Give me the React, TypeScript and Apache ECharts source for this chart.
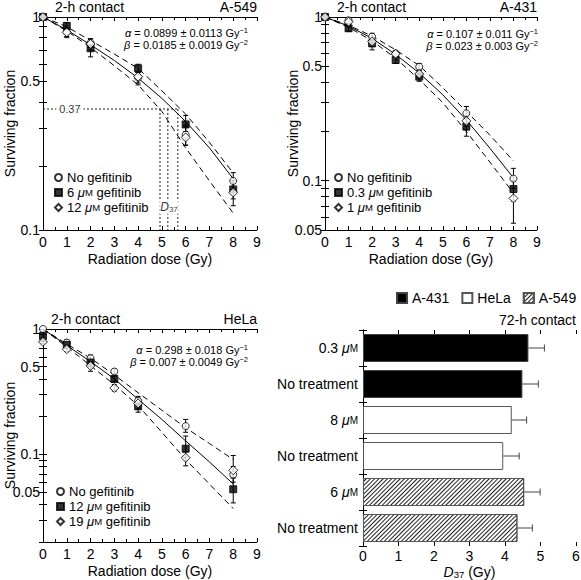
import React, { useEffect, useRef } from "react";
import * as echarts from "echarts";

const FONT = '"Liberation Sans", Arial, Helvetica, sans-serif';

// ---------- shared ----------
const fitDoses = [0, 1, 2, 3, 4, 5, 6, 7, 8];

// ---------- A-549 (2-h contact) ----------
const a549Doses = [0, 1, 2, 4, 6, 8];
const a549NoGef = [1, 0.853, 0.757, 0.519, 0.28, 0.17];
const a549Gef6 = [1, 0.908, 0.713, 0.574, 0.313, 0.155];
const a549Gef12 = [1, 0.847, 0.747, 0.525, 0.272, 0.15];
const a549NoGefErr = [[1, 1], [0.81, 0.89], [0.72, 0.79], [0.49, 0.55], [0.25, 0.305], [0.155, 0.186]];
const a549Gef6Err = [[1, 1], [0.88, 0.94], [0.65, 0.75], [0.55, 0.6], [0.29, 0.345], [0.14, 0.17]];
const a549Gef12Err = [[1, 1], [0.8, 0.88], [0.7, 0.79], [0.48, 0.55], [0.25, 0.31], [0.13, 0.17]];
const a549Fit = [1, 0.87, 0.74, 0.625, 0.517, 0.415, 0.323, 0.243, 0.174];
const a549Upper = [1, 0.9, 0.775, 0.67, 0.574, 0.45, 0.35, 0.258, 0.185];
const a549Lower = [1, 0.86, 0.72, 0.59, 0.48, 0.36, 0.243, 0.17, 0.12];
const d37Level = 0.37;
const d37Doses = [4.92, 5.25, 5.67];
const a549YLabels = [0.1, 0.5, 1];
const a549YTicks = [0.1, 0.2, 0.3, 0.4, 0.5, 0.6, 0.7, 0.8, 0.9, 1];

// ---------- A-431 (2-h contact) ----------
const a431Doses = [0, 1, 2, 3, 4, 6, 8];
const a431NoGef = [1, 0.955, 0.758, 0.6, 0.497, 0.258, 0.103];
const a431Gef03 = [1, 0.853, 0.69, 0.546, 0.432, 0.214, 0.089];
const a431Gef1 = [1, 0.935, 0.707, 0.595, 0.449, 0.232, 0.078];
const a431NoGefErr = [[1, 1], [0.93, 0.98], [0.73, 0.795], [0.58, 0.62], [0.475, 0.52], [0.24, 0.284], [0.09, 0.119]];
const a431Gef03Err = [[1, 1], [0.82, 0.89], [0.63, 0.75], [0.52, 0.57], [0.405, 0.455], [0.187, 0.24], [0.075, 0.1]];
const a431Gef1Err = [[1, 1], [0.91, 0.97], [0.66, 0.75], [0.575, 0.62], [0.425, 0.47], [0.215, 0.25], [0.055, 0.1]];
const a431Fit = [1, 0.88, 0.74, 0.59, 0.455, 0.335, 0.235, 0.158, 0.104];
const a431Upper = [1, 0.89, 0.765, 0.63, 0.505, 0.37, 0.265, 0.19, 0.132];
const a431Lower = [1, 0.865, 0.715, 0.56, 0.415, 0.3, 0.2, 0.13, 0.084];
const a431YLabels = [0.05, 0.1, 0.5, 1];
const a431YTicks = [0.05, 0.06, 0.07, 0.08, 0.09, 0.1, 0.2, 0.3, 0.4, 0.5, 0.6, 0.7, 0.8, 0.9, 1];

// ---------- HeLa (2-h contact) ----------
const helaDoses = [0, 1, 2, 3, 4, 6, 8];
const helaNoGef = [1, 0.78, 0.585, 0.458, 0.268, 0.168, 0.069];
const helaGef12 = [0.88, 0.746, 0.54, 0.399, 0.242, 0.111, 0.0527];
const helaGef19 = [0.79, 0.69, 0.508, 0.338, 0.255, 0.094, 0.0747];
const helaNoGefErr = [[1, 1], [0.74, 0.82], [0.55, 0.62], [0.44, 0.48], [0.25, 0.29], [0.15, 0.19], [0.06, 0.08]];
const helaGef12Err = [[0.85, 0.91], [0.7, 0.79], [0.5, 0.58], [0.38, 0.42], [0.217, 0.265], [0.095, 0.14], [0.041, 0.065]];
const helaGef19Err = [[0.77, 0.81], [0.66, 0.72], [0.46, 0.55], [0.32, 0.36], [0.23, 0.28], [0.081, 0.105], [0.065, 0.098]];
const helaFit = [1, 0.74, 0.55, 0.4, 0.275, 0.19, 0.128, 0.087, 0.058];
const helaUpper = [1, 0.76, 0.585, 0.43, 0.31, 0.225, 0.163, 0.122, 0.091];
const helaLower = [1, 0.72, 0.51, 0.36, 0.245, 0.15, 0.091, 0.058, 0.037];
const helaYLabels = [0.05, 0.1, 0.5, 1];
const helaYTicks = [0.02, 0.03, 0.04, 0.05, 0.06, 0.07, 0.08, 0.09, 0.1, 0.2, 0.3, 0.4, 0.5, 0.6, 0.7, 0.8, 0.9, 1];

// ---------- D37 bars (72-h contact) ----------
const barLabels = ["0.3 μM", "No treatment", "8 μM", "No treatment", "6 μM", "No treatment"];
const barCell = ["A-431", "A-431", "HeLa", "HeLa", "A-549", "A-549"];
const barValues = [4.66, 4.49, 4.19, 3.95, 4.54, 4.35];
const barErrors = [0.45, 0.45, 0.42, 0.45, 0.45, 0.42];
const cellLines = ["A-431", "HeLa", "A-549"];

// ---------- helpers ----------
const richMu = {
  mu: { fontStyle: "italic", fontSize: 13, fontFamily: FONT, color: "#000" },
  m: { fontSize: 9.5, fontFamily: FONT, color: "#000" },
};
const muText = (s: string) => s.replace("μM", "{mu|μ}{m|M}");

const symStyle: Record<string, any> = {
  circle: { symbol: "circle", symbolSize: 7, itemStyle: { color: "#fff", borderColor: "#000", borderWidth: 1 } },
  rect: { symbol: "rect", symbolSize: 7, itemStyle: { color: "#000", borderColor: "#000", borderWidth: 1 } },
  diamond: { symbol: "diamond", symbolSize: 9, itemStyle: { color: "#fff", borderColor: "#000", borderWidth: 1 } },
};

function scatterSeries(name: string, xi: number, doses: number[], vals: number[], sym: string) {
  return {
    type: "scatter",
    name,
    xAxisIndex: xi,
    yAxisIndex: xi,
    z: 5,
    silent: true,
    ...symStyle[sym],
    data: doses.map((d, i) => [d, vals[i]]),
  };
}

function errSeries(xi: number, doses: number[], errs: number[][]) {
  return {
    type: "custom",
    xAxisIndex: xi,
    yAxisIndex: xi,
    z: 4,
    silent: true,
    data: doses.map((d, i) => [d, errs[i][0], errs[i][1]]).filter((r) => r[1] !== r[2]),
    encode: { x: 0, y: [1, 2] },
    renderItem: (_p: any, api: any) => {
      const x = api.value(0);
      const a = api.coord([x, api.value(2)]);
      const b = api.coord([x, api.value(1)]);
      const w = 2.5;
      const st = { stroke: "#000", lineWidth: 1 };
      return {
        type: "group",
        children: [
          { type: "line", shape: { x1: a[0], y1: a[1], x2: b[0], y2: b[1] }, style: st },
          { type: "line", shape: { x1: a[0] - w, y1: a[1], x2: a[0] + w, y2: a[1] }, style: st },
          { type: "line", shape: { x1: b[0] - w, y1: b[1], x2: b[0] + w, y2: b[1] }, style: st },
        ],
      };
    },
  };
}

function lineSeries(xi: number, vals: number[], dashed: boolean) {
  return {
    type: "line",
    xAxisIndex: xi,
    yAxisIndex: xi,
    z: 3,
    silent: true,
    symbol: "none",
    lineStyle: { color: "#000", width: 1, type: dashed ? [6, 4] : "solid" },
    data: fitDoses.map((d, i) => [d, vals[i]]),
  };
}

const axisLineStyle = { lineStyle: { color: "#000", width: 1 } };

function doseX(gi: number, top: boolean) {
  return {
    type: "value",
    gridIndex: gi,
    position: top ? "top" : "bottom",
    min: 0,
    max: 9,
    interval: 1,
    name: top ? "" : "Radiation dose (Gy)",
    nameLocation: "middle",
    nameGap: 22,
    nameMoveOverlap: false,
    nameTextStyle: { fontSize: 14, color: "#000", fontFamily: FONT },
    axisLine: axisLineStyle,
    axisTick: { show: true, inside: true, length: 4, lineStyle: { color: "#000" } },
    minorTick: { show: true, splitNumber: 2, length: 3, lineStyle: { color: "#000" } },
    axisLabel: { show: !top, fontSize: 14, color: "#000", margin: 5, fontFamily: FONT },
    splitLine: { show: false },
  };
}

function logY(gi: number, right: boolean, min: number, labels: number[], ticks: number[], gap: number) {
  return {
    type: "log",
    logBase: 10,
    gridIndex: gi,
    position: right ? "right" : "left",
    min,
    max: 1,
    name: right ? "" : "Surviving fraction",
    nameLocation: "middle",
    nameGap: gap,
    nameMoveOverlap: false,
    nameTextStyle: { fontSize: 14, color: "#000", fontFamily: FONT },
    axisLine: axisLineStyle,
    axisTick: { show: true, inside: true, length: 4, customValues: ticks, lineStyle: { color: "#000" } },
    axisLabel: {
      show: !right,
      fontSize: 14,
      color: "#000",
      margin: 3,
      fontFamily: FONT,
      customValues: labels,
      formatter: (v: number) => String(Number(Number(v).toPrecision(3))),
    },
    splitLine: { show: false },
  };
}

const alphaBeta = (x: number, y: number, a: string, b: string) => {
  const rich = {
    g: { fontStyle: "italic", fontSize: 11, fontFamily: FONT, fill: "#000" },
    sup: { fontSize: 7.5, lineHeight: 8, verticalAlign: "top", fontFamily: FONT, fill: "#000" },
  };
  return [
    {
      type: "text",
      x,
      y,
      style: { text: `{g|α} = ${a} Gy{sup|−1}`, rich, fontSize: 11, fontFamily: FONT, fill: "#000", align: "right", verticalAlign: "middle", lineHeight: 13 },
    },
    {
      type: "text",
      x,
      y: y + 12,
      style: { text: `{g|β} = ${b} Gy{sup|−2}`, rich, fontSize: 11, fontFamily: FONT, fill: "#000", align: "right", verticalAlign: "middle", lineHeight: 13 },
    },
  ];
};

const plainText = (x: number, y: number, text: string, align: string) => ({
  type: "text",
  x,
  y,
  style: { text, fontSize: 14, fontFamily: FONT, fill: "#000", align, verticalAlign: "middle" },
});

function panelLegend(names: string[], left: number, top: number) {
  return {
    data: names,
    orient: "vertical",
    left,
    top,
    itemWidth: 7,
    itemHeight: 7,
    itemGap: 2,
    selectedMode: false,
    padding: 0,
    textStyle: { fontSize: 13, color: "#000", fontFamily: FONT, rich: richMu },
    formatter: (n: string) => muText(n.split("#")[0]),
  };
}

export default function App() {
  const ref = useRef<HTMLDivElement>(null);

  useEffect(() => {
    if (!ref.current) return;
    const chart = echarts.init(ref.current, undefined, { renderer: "svg" });

    const grids = [
      { left: 43, top: 17, width: 214, height: 213 },
      { left: 325, top: 17, width: 212, height: 213 },
      { left: 43, top: 329, width: 214, height: 213 },
      { left: 363, top: 330, width: 213, height: 216 },
    ].map((g) => ({ ...g, outerBoundsMode: "none", containLabel: false }));

    const barCats = barLabels.map((l, i) => `${l}|${barCell[i]}`);
    const catLabelFmt = (v: string) => muText(v.split("|")[0]);

    const xAxis: any[] = [
      doseX(0, false), doseX(0, true),
      doseX(1, false), doseX(1, true),
      doseX(2, false), doseX(2, true),
    ];
    const barX = (top: boolean) => ({
      type: "value",
      gridIndex: 3,
      position: top ? "top" : "bottom",
      min: 0,
      max: 6,
      interval: 1,
      name: top ? "" : "{i|D}{sub|37} (Gy)",
      nameLocation: "middle",
      nameGap: 19,
      nameMoveOverlap: false,
      nameTextStyle: {
        fontSize: 14,
        lineHeight: 14,
        color: "#000",
        fontFamily: FONT,
        rich: {
          i: { fontStyle: "italic", fontSize: 14, lineHeight: 14, fontFamily: FONT, color: "#000" },
          sub: { fontSize: 9.5, lineHeight: 9, verticalAlign: "bottom", fontFamily: FONT, color: "#000" },
        },
      },
      axisLine: axisLineStyle,
      axisTick: { show: true, inside: true, length: 4, lineStyle: { color: "#000" } },
      axisLabel: { show: !top, fontSize: 14, lineHeight: 14, color: "#000", margin: 3, fontFamily: FONT },
      splitLine: { show: false },
    });
    xAxis.push(barX(false), barX(true));

    const yAxis: any[] = [
      logY(0, false, 0.1, a549YLabels, a549YTicks, 26), logY(0, true, 0.1, a549YLabels, a549YTicks, 26),
      logY(1, false, 0.05, a431YLabels, a431YTicks, 25), logY(1, true, 0.05, a431YLabels, a431YTicks, 25),
      logY(2, false, 0.02, helaYLabels, helaYTicks, 26), logY(2, true, 0.02, helaYLabels, helaYTicks, 26),
    ];
    const barY = (right: boolean) => ({
      type: "category",
      gridIndex: 3,
      position: right ? "right" : "left",
      inverse: true,
      data: barCats,
      axisLine: axisLineStyle,
      axisTick: { show: true, inside: true, length: 4, alignWithLabel: false, lineStyle: { color: "#000" } },
      axisLabel: {
        show: !right,
        fontSize: 14,
        color: "#000",
        margin: 5,
        fontFamily: FONT,
        formatter: catLabelFmt,
        rich: { mu: { ...richMu.mu, fontSize: 14 }, m: { ...richMu.m, fontSize: 10 } },
      },
      splitLine: { show: false },
    });
    yAxis.push(barY(false), barY(true));

    const series: any[] = [];

    // panel 0: A-549
    series.push(lineSeries(0, a549Fit, false), lineSeries(0, a549Upper, true), lineSeries(0, a549Lower, true));
    series.push({
      type: "line",
      xAxisIndex: 0,
      yAxisIndex: 0,
      z: 2,
      silent: true,
      symbol: "none",
      lineStyle: { color: "#222", width: 1, type: [2, 2] },
      data: [[0, d37Level], [Math.max(...d37Doses), d37Level]],
    });
    d37Doses.forEach((d) =>
      series.push({
        type: "line",
        xAxisIndex: 0,
        yAxisIndex: 0,
        z: 2,
        silent: true,
        symbol: "none",
        lineStyle: { color: "#222", width: 1, type: [2, 2] },
        data: [[d, d37Level], [d, 0.1]],
      })
    );
    series.push({
      type: "scatter",
      xAxisIndex: 0,
      yAxisIndex: 0,
      z: 6,
      silent: true,
      symbolSize: 1,
      itemStyle: { color: "rgba(0,0,0,0)" },
      data: [[1.13, d37Level]],
      label: { show: true, position: "inside", formatter: "0.37", backgroundColor: "#fff", padding: [1, 3], fontSize: 11, color: "#000", fontFamily: FONT },
    });
    series.push({
      type: "scatter",
      xAxisIndex: 0,
      yAxisIndex: 0,
      z: 6,
      silent: true,
      symbolSize: 1,
      itemStyle: { color: "rgba(0,0,0,0)" },
      data: [[5.3, 0.128]],
      label: {
        show: true,
        position: "inside",
        formatter: "{i|D}{s|37}",
        backgroundColor: "#fff",
        padding: [1, 1],
        color: "#000",
        rich: {
          i: { fontStyle: "italic", fontSize: 12, fontFamily: FONT, color: "#000" },
          s: { fontSize: 8, lineHeight: 8, verticalAlign: "bottom", fontFamily: FONT, color: "#000" },
        },
      },
    });
    series.push(errSeries(0, a549Doses, a549NoGefErr), errSeries(0, a549Doses, a549Gef6Err), errSeries(0, a549Doses, a549Gef12Err));
    series.push(
      scatterSeries("No gefitinib#a549", 0, a549Doses, a549NoGef, "circle"),
      scatterSeries("6 μM gefitinib#a549", 0, a549Doses, a549Gef6, "rect"),
      scatterSeries("12 μM gefitinib#a549", 0, a549Doses, a549Gef12, "diamond")
    );

    // panel 1: A-431
    series.push(lineSeries(2, a431Fit, false), lineSeries(2, a431Upper, true), lineSeries(2, a431Lower, true));
    series.push(errSeries(2, a431Doses, a431NoGefErr), errSeries(2, a431Doses, a431Gef03Err), errSeries(2, a431Doses, a431Gef1Err));
    series.push(
      scatterSeries("No gefitinib#a431", 2, a431Doses, a431NoGef, "circle"),
      scatterSeries("0.3 μM gefitinib#a431", 2, a431Doses, a431Gef03, "rect"),
      scatterSeries("1 μM gefitinib#a431", 2, a431Doses, a431Gef1, "diamond")
    );

    // panel 2: HeLa
    series.push(lineSeries(4, helaFit, false), lineSeries(4, helaUpper, true), lineSeries(4, helaLower, true));
    series.push(errSeries(4, helaDoses, helaNoGefErr), errSeries(4, helaDoses, helaGef12Err), errSeries(4, helaDoses, helaGef19Err));
    series.push(
      scatterSeries("No gefitinib#hela", 4, helaDoses, helaNoGef, "circle"),
      scatterSeries("12 μM gefitinib#hela", 4, helaDoses, helaGef12, "rect"),
      scatterSeries("19 μM gefitinib#hela", 4, helaDoses, helaGef19, "diamond")
    );

    // panel 3: bars
    const barStyles: Record<string, any> = {
      "A-431": { color: "#000", borderColor: "#444", borderWidth: 1 },
      HeLa: { color: "#fff", borderColor: "#555", borderWidth: 1 },
      "A-549": {
        color: "#fff",
        borderColor: "#555",
        borderWidth: 1,
        decal: {
          symbol: "rect",
          symbolSize: 1,
          color: "#222",
          backgroundColor: "#fff",
          dashArrayX: [1, 0],
          dashArrayY: [1, 2],
          rotation: -Math.PI / 4,
        },
      },
    };
    cellLines.forEach((cl) =>
      series.push({
        type: "bar",
        name: cl,
        xAxisIndex: 6,
        yAxisIndex: 6,
        barWidth: 28,
        barGap: "-100%",
        silent: true,
        itemStyle: barStyles[cl],
        data: barValues.map((v, i) => (barCell[i] === cl ? v : "-")),
      })
    );
    series.push({
      type: "custom",
      xAxisIndex: 6,
      yAxisIndex: 6,
      z: 4,
      silent: true,
      data: barValues.map((v, i) => [v, i, barErrors[i]]),
      encode: { x: 0, y: 1 },
      renderItem: (_p: any, api: any) => {
        const v = api.value(0);
        const idx = api.value(1);
        const e = api.value(2);
        const a = api.coord([v, idx]);
        const b = api.coord([v + e, idx]);
        const st = { stroke: "#444", lineWidth: 1 };
        return {
          type: "group",
          children: [
            { type: "line", shape: { x1: a[0], y1: a[1], x2: b[0], y2: b[1] }, style: st },
            { type: "line", shape: { x1: b[0], y1: b[1] - 3.5, x2: b[0], y2: b[1] + 3.5 }, style: st },
          ],
        };
      },
    });

    const legend: any[] = [
      panelLegend(["No gefitinib#a549", "6 μM gefitinib#a549", "12 μM gefitinib#a549"], 54, 171),
      panelLegend(["No gefitinib#a431", "0.3 μM gefitinib#a431", "1 μM gefitinib#a431"], 334, 171),
      panelLegend(["No gefitinib#hela", "12 μM gefitinib#hela", "19 μM gefitinib#hela"], 56, 485),
      {
        data: cellLines,
        orient: "horizontal",
        left: 396,
        top: 291,
        icon: "rect",
        itemWidth: 10,
        itemHeight: 10,
        itemGap: 12,
        padding: 0,
        selectedMode: false,
        textStyle: { fontSize: 14, color: "#000", fontFamily: FONT },
      },
    ];

    const graphic: any[] = [
      plainText(55, 7, "2-h contact", "left"),
      plainText(257, 7, "A-549", "right"),
      plainText(337, 7, "2-h contact", "left"),
      plainText(537, 7, "A-431", "right"),
      plainText(51, 319, "2-h contact", "left"),
      plainText(257, 319, "HeLa", "right"),
      plainText(576, 320, "72-h contact", "right"),
      ...alphaBeta(248, 33, "0.0899 ± 0.0113", "0.0185 ± 0.0019"),
      ...alphaBeta(538, 34, "0.107 ± 0.011", "0.023 ± 0.003"),
      ...alphaBeta(248, 350, "0.298 ± 0.018", "0.007 ± 0.0049"),
    ];

    chart.setOption({
      animation: false,
      backgroundColor: "#fff",
      textStyle: { fontFamily: FONT, color: "#000" },
      tooltip: { show: false },
      grid: grids,
      xAxis,
      yAxis,
      legend,
      graphic,
      series,
    });

    return () => chart.dispose();
  }, []);

  return (
    <div
      ref={ref}
      style={{ position: "absolute", left: 0, top: 0, width: 581, height: 580 }}
    />
  );
}
